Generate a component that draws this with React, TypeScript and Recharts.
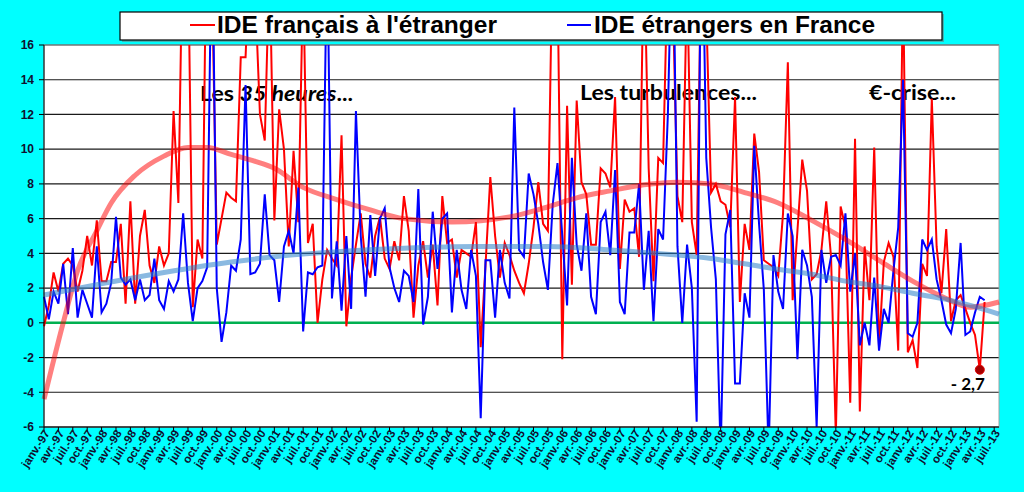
import { CartesianGrid, Customized, Line, LineChart, ReferenceDot, ReferenceLine, XAxis, YAxis } from 'recharts';

// months janv.-97 .. août-13 (200 categories), monthly FDI flows (Md€)
const MONTHS = ['janv.', 'févr.', 'mars', 'avr.', 'mai', 'juin', 'juil.', 'août', 'sept.', 'oct.', 'nov.', 'déc.'];
const FIRST_YEAR = 1997;
const N_CATEGORIES = 200;

const frAbroad = [
  -0.2, 1.0, 2.9, 1.8, 3.4, 3.7, 3.3, 1.8, 3.0, 5.0, 3.3, 5.9, 2.4, 2.4, 3.5, 3.5, 5.7, 1.1, 7.0, 1.1,
  5.0, 6.5, 3.3, 2.3, 4.4, 3.3, 4.0, 12.2, 6.9, 24, 22, 0.9, 4.8, 3.7, 26, 20, 4.5, 6.0, 7.5, 7.2,
  7.0, 15.3, 15.3, 22, 19, 12.0, 10.5, 21, 5.9, 12.3, 10.0, 4.4, 9.9, 5.8, 20, 4.6, 5.7, 0.0, 2.5, 4.2,
  3.7, 3.3, 10.8, -0.2, 2.6, 4.5, 6.3, 3.4, 2.6, 5.0, 6.1, 3.7, 3.1, 4.7, 3.6, 7.3, 5.3, 0.3, 3.3, 4.7,
  2.6, 4.5, 1.0, 7.3, 4.6, 4.8, 2.6, 4.2, 4.0, 3.8, 5.8, -1.4, 3.3, 8.4, 5.0, 2.6, 4.6, 3.9, 3.0, 2.3,
  1.7, 3.4, 5.5, 8.1, 5.7, 5.3, 22, 20, -2.1, 12.5, 2.2, 12.8, 8.1, 7.4, 4.5, 4.5, 8.9, 8.6, 7.8, 13.0,
  3.1, 7.1, 6.4, 6.6, 3.8, 22, 8.9, 2.4, 9.5, 9.2, 21, 19, 7.3, 5.8, 20, 5.8, 3.9, 22, 18, 7.5,
  8.0, 7.0, 6.8, 5.5, 13.0, 1.2, 5.7, 4.2, 10.9, 8.7, 3.6, 3.4, 3.2, 2.7, 6.3, 15.0, 1.3, 5.3, 9.4, 7.6,
  2.5, 2.8, 4.2, 7.0, 3.8, -6.5, 6.7, 5.5, -4.6, 10.6, -5.1, 4.4, 1.3, 10.1, -1.4, 3.5, 4.6, 3.8, -1.6, 20,
  -1.7, -1.0, -2.6, 3.4, 2.7, 12.9, 4.4, 1.7, 5.4, 0.1, 1.3, 1.6, 0.8, 0.0, -0.7, -2.7, 1.2,
];

const foreignInFrance = [
  1.5, 0.2, 1.8, 1.1, 3.4, 0.5, 4.3, 0.3, 1.9, 1.1, 0.3, 4.4, 0.6, 1.1, 2.3, 6.1, 2.6, 2.2, 2.5, 1.3,
  2.5, 1.3, 1.6, 3.7, 1.3, 0.8, 2.4, 1.8, 2.5, 6.3, 2.3, 0.1, 2.0, 2.4, 3.2, 24, 2.0, -1.1, 0.6, 3.3,
  3.0, 4.8, 13.7, 2.8, 2.9, 3.4, 7.4, 3.9, 3.6, 1.2, 4.4, 5.3, 4.0, 7.8, -0.5, 2.9, 2.8, 3.2, 3.3, 22,
  1.4, 4.7, 0.7, 5.0, 0.8, 12.2, 5.0, 1.5, 6.2, 2.7, 6.0, 6.6, 3.2, 2.0, 1.2, 3.0, 2.7, 1.2, 7.7, -0.1,
  1.5, 6.4, 3.1, 6.0, 6.3, 0.6, 4.2, 1.9, 0.8, 4.2, 2.7, -5.5, 3.6, 3.6, 0.3, 4.2, 2.3, 1.4, 12.4, 4.2,
  3.8, 8.6, 7.4, 5.7, 3.5, 1.9, 6.8, 9.2, 5.0, 1.0, 9.5, 4.5, 3.0, 6.3, 1.5, 0.5, 5.8, 6.4, 3.9, 8.8,
  1.2, 0.5, 5.2, 5.2, 8.0, 1.9, 5.3, 0.1, 5.4, 4.8, 12.0, 24, 4.4, 0.0, 4.5, 2.0, -5.7, 26, 9.5, 5.5,
  2.5, -7.5, 5.1, 6.5, -3.5, -3.5, 1.7, 0.3, 10.2, 5.7, 1.9, -7.5, 3.9, 1.8, 0.8, 6.3, 5.0, -2.1, 4.2, 3.3,
  1.5, -6.0, 4.2, 2.3, 3.8, 3.9, 3.3, 6.3, 1.8, 4.0, -1.3, 0.0, -1.3, 2.6, -1.6, 0.8, 0.0, 3.0, 5.5, 14.0,
  -0.6, -0.8, 0.0, 4.8, 4.2, 4.8, 2.5, 1.3, -0.1, -0.6, 0.8, 4.6, -0.7, -0.5, 0.6, 1.5, 1.3,
];

// trend curves, read at a few months
const frTrendMonths = [0, 4, 7, 11, 14, 19, 25, 30, 34, 39, 44, 48, 54, 61, 68, 75, 85, 97, 104, 111, 118, 125, 132, 139, 146, 153, 160, 167, 174, 181, 188, 193, 199];
const frTrendValues = [-4.4, 0.0, 3.0, 5.3, 6.9, 8.5, 9.6, 10.1, 10.1, 9.7, 9.3, 8.9, 7.8, 7.1, 6.5, 6.0, 5.8, 6.1, 6.6, 7.2, 7.6, 7.95, 8.1, 8.0, 7.5, 6.9, 5.9, 4.8, 3.6, 2.4, 1.4, 0.9, 1.2];
const etrTrendMonths = [0, 11, 25, 39, 48, 61, 75, 90, 105, 118, 132, 139, 146, 155, 160, 167, 174, 181, 188, 193, 199];
const etrTrendValues = [1.6, 2.2, 2.9, 3.5, 3.8, 4.1, 4.3, 4.4, 4.4, 4.2, 3.9, 3.7, 3.4, 3.0, 2.8, 2.4, 2.1, 1.7, 1.35, 1.0, 0.5];

const yTicks = [-6, -4, -2, 0, 2, 4, 6, 8, 10, 12, 14, 16];

const labels = Array.from({ length: N_CATEGORIES }, (_, i) => {
  const yy = String((FIRST_YEAR + Math.floor(i / 12)) % 100).padStart(2, '0');
  return `${MONTHS[i % 12]}-${yy}`;
});

const frTrendAt = new Map(frTrendMonths.map((m, k) => [m, frTrendValues[k]]));
const etrTrendAt = new Map(etrTrendMonths.map((m, k) => [m, etrTrendValues[k]]));

const data = labels.map((label, i) => ({
  label,
  fr: frAbroad[i] ?? null,
  etr: foreignInFrance[i] ?? null,
  frTrend: frTrendAt.get(i) ?? null,
  etrTrend: etrTrendAt.get(i) ?? null,
}));

const lastIdx = frAbroad.length - 2; // the marked point (avr.-13)
const lastLabel = labels[lastIdx];
const lastValue = frAbroad[lastIdx];
const fmt = (v: number) => (v < 0 ? '- ' : '') + Math.abs(v).toFixed(1).replace('.', ',');

const W = 1024;
const H = 492;
const PLOT = { left: 44, top: 45, right: 999, bottom: 427 };
const AXIS_FONT = '"Liberation Sans", Arial, sans-serif';
const NOTE_FONT = 'Lato, "Open Sans", sans-serif';

const XTick = ({ x, y, payload }: any) => (
  <text
    x={x + 3}
    y={y - 3}
    transform={`rotate(-57 ${x + 3} ${y - 3})`}
    textAnchor="end"
    dominantBaseline="central"
    fontFamily={AXIS_FONT}
    fontWeight="bold"
    fontSize={11.5}
    fill="#101030"
  >
    {payload.value}
  </text>
);

const Decorations = () => (
  <g>
    <rect x={PLOT.left} y={PLOT.top} width={PLOT.right - PLOT.left} height={PLOT.bottom - PLOT.top} fill="none" stroke="#a0a0a0" />
    {/* legend */}
    <rect x={122} y={14} width={822} height={28} fill="#777" opacity={0.55} />
    <rect x={120} y={12} width={822} height={28} fill="#fff" stroke="#000" strokeWidth={1.2} />
    <line x1={190} x2={215} y1={25} y2={25} stroke="#ff0000" strokeWidth={2} />
    <text x={217} y={33} fontFamily={AXIS_FONT} fontWeight="bold" fontSize={24} fill="#000" textLength={280} lengthAdjust="spacingAndGlyphs">
      IDE français à l'étranger
    </text>
    <line x1={567} x2={591} y1={25} y2={25} stroke="#0000ff" strokeWidth={2} />
    <text x={594} y={33} fontFamily={AXIS_FONT} fontWeight="bold" fontSize={24} fill="#000" textLength={281} lengthAdjust="spacingAndGlyphs">
      IDE étrangers en France
    </text>
    {/* notes */}
    <text x={200} y={101} fontFamily={NOTE_FONT} fontWeight="bold" fontSize={21} fill="#000" textLength={153} lengthAdjust="spacingAndGlyphs">
      Les <tspan fontStyle="italic">35 heures</tspan>...
    </text>
    <text x={580} y={100} fontFamily={NOTE_FONT} fontWeight="bold" fontSize={21} fill="#000" textLength={177} lengthAdjust="spacingAndGlyphs">
      Les turbulences...
    </text>
    <text x={869} y={100} fontFamily={NOTE_FONT} fontWeight="bold" fontSize={21} fill="#000" textLength={87} lengthAdjust="spacingAndGlyphs">
      €-crise...
    </text>
  </g>
);

export default function App() {
  return (
    <div style={{ position: 'absolute', left: 0, top: 0, width: W, height: H, background: '#00ffff' }}>
      <LineChart width={W} height={H} data={data} margin={{ top: PLOT.top, right: W - PLOT.right, bottom: 5, left: 0 }}>
        <CartesianGrid vertical={false} stroke="#1a1a1a" strokeWidth={1.2} fill="#ffffff" fillOpacity={1} />
        <XAxis
          dataKey="label"
          interval={2}
          height={60}
          tick={<XTick />}
          tickSize={5}
          axisLine={{ stroke: '#000' }}
          tickLine={{ stroke: '#000' }}
        />
        <YAxis
          domain={[-6, 16]}
          ticks={yTicks}
          allowDataOverflow
          width={PLOT.left}
          tickSize={5}
          tickMargin={5}
          axisLine={{ stroke: '#000' }}
          tickLine={{ stroke: '#000' }}
          tick={{ fontFamily: AXIS_FONT, fontWeight: 'bold', fontSize: 12, fill: '#101030' }}
        />
        <ReferenceLine y={0} stroke="#00b050" strokeWidth={2.5} />
        <Line type="linear" dataKey="fr" stroke="#ff0000" strokeWidth={2} dot={false} activeDot={false} isAnimationActive={false} />
        <Line type="linear" dataKey="etr" stroke="#0000ff" strokeWidth={2} dot={false} activeDot={false} isAnimationActive={false} />
        <Line type="monotone" dataKey="frTrend" connectNulls stroke="#ff0000" strokeOpacity={0.5} strokeWidth={5} dot={false} activeDot={false} isAnimationActive={false} />
        <Line type="monotone" dataKey="etrTrend" connectNulls stroke="#2a7fc8" strokeOpacity={0.55} strokeWidth={5} dot={false} activeDot={false} isAnimationActive={false} />
        <ReferenceDot
          x={lastLabel}
          y={lastValue}
          r={4.5}
          fill="#a50000"
          stroke="#e00000"
          strokeWidth={1}
          label={({ viewBox }: any) => (
            <text
              x={viewBox.x + viewBox.width / 2 - 12}
              y={viewBox.y + viewBox.height + 16}
              textAnchor="middle"
              fontFamily={NOTE_FONT}
              fontWeight="bold"
              fontSize={17}
              fill="#000"
            >
              {fmt(lastValue)}
            </text>
          )}
        />
        <Customized component={Decorations} />
      </LineChart>
    </div>
  );
}
